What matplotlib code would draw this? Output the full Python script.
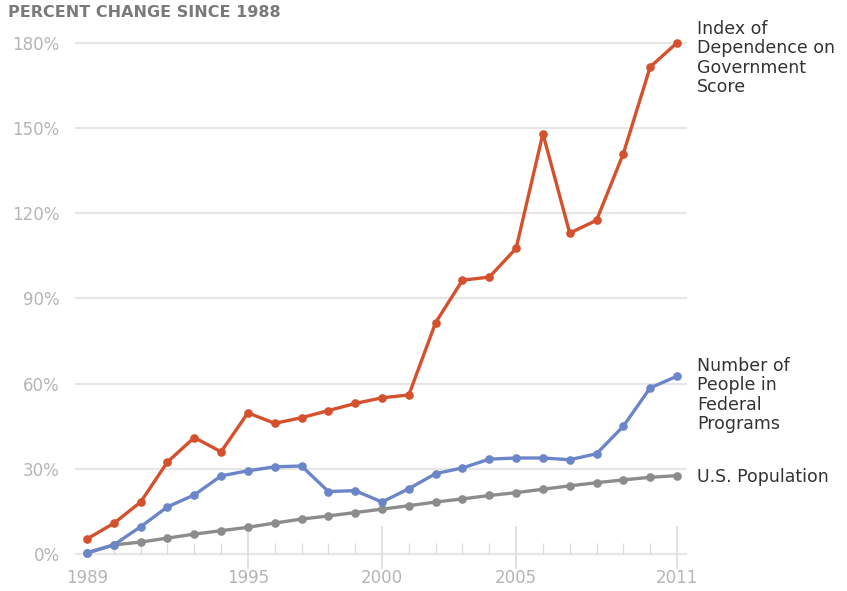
import matplotlib
matplotlib.use("Agg")
import matplotlib.pyplot as plt
import numpy as np

years = list(range(1989, 2012))
index_dependence = [5.3, 10.8, 18.3, 32.4, 41.0, 36.0, 49.7, 46.0, 48.0, 50.5, 53.0, 55.0, 56.0,
                    81.5, 96.4, 97.5, 107.6, 148.0, 113.0, 117.5, 141.0, 171.5, 180.0]
federal_programs = [0.3, 3.2, 9.6, 16.6, 20.8, 27.5, 29.3, 30.7, 31.0, 22.0, 22.3, 18.3, 23.0,
                    28.3, 30.3, 33.4, 33.8, 33.8, 33.2, 35.3, 45.0, 58.5, 62.6]
us_population = [0.5, 3.2, 4.2, 5.6, 7.0, 8.2, 9.4, 10.9, 12.3, 13.4, 14.6, 15.8, 17.0,
                 18.3, 19.4, 20.6, 21.6, 22.8, 24.0, 25.1, 26.1, 27.0, 27.6]
y_ticks = [0, 30, 60, 90, 120, 150, 180]
y_tick_labels = ["0%", "30%", "60%", "90%", "120%", "150%", "180%"]
x_major = [1989, 1995, 2000, 2005, 2011]
x_major_labels = ["1989", "1995", "2000", "2005", "2011"]
series_labels = ["Index of\nDependence on\nGovernment\nScore",
                 "Number of\nPeople in\nFederal\nPrograms",
                 "U.S. Population"]
title = "PERCENT CHANGE SINCE 1988"

W, H = 847, 591
fig = plt.figure(figsize=(W / 100, H / 100), dpi=100)
fig.patch.set_facecolor("white")

# axes placement (pixel based)
px_left, px_right = 75, 687
y0_px, per_pct = 554, 85.2 / 30
ylo, yhi = -8, 185
top_px = y0_px - yhi * per_pct
bot_px = y0_px - ylo * per_pct
ax = fig.add_axes([px_left / W, 1 - bot_px / H, (px_right - px_left) / W, (bot_px - top_px) / H])
ppy = (677 - 87) / 22
ax.set_xlim(1989 - (87 - px_left) / ppy, 2011 + (px_right - 677) / ppy)
ax.set_ylim(ylo, yhi)

for s in ax.spines.values():
    s.set_visible(False)
ax.spines["bottom"].set_position(("data", 0))

# gridlines
for yv in y_ticks:
    ax.axhline(yv, color="#e6e6e6", lw=1.6, zorder=0)

ax.set_yticks(y_ticks)
ax.set_yticklabels(y_tick_labels)
ax.tick_params(axis="y", length=0, pad=11, labelsize=12, labelcolor="#b5b5b5")

ax.set_xticks(x_major)
ax.set_xticklabels(x_major_labels)
ax.set_xticks([y for y in years if y not in x_major], minor=True)
ax.tick_params(axis="x", which="major", length=0, pad=11, labelsize=12, labelcolor="#b5b5b5")
ax.tick_params(axis="x", which="minor", direction="in", length=8, width=1.0, color="#dcdcdc")
for xv in x_major[1:]:
    ax.plot([xv, xv], [-5, 9.5], color="#dcdcdc", lw=1.2, zorder=0.5, clip_on=False)

lw, ms = 2.4, 5.2
ax.plot(years, us_population, color="#8c8c8c", lw=lw, marker="o", ms=ms, zorder=2, clip_on=False)
ax.plot(years, federal_programs, color="#6b86c8", lw=lw, marker="o", ms=ms, zorder=3, clip_on=False)
ax.plot(years, index_dependence, color="#d5502d", lw=lw, marker="o", ms=ms, zorder=4, clip_on=False)

fig.text(8 / W, 1 - 5 / H, title, fontsize=11.5, fontweight="bold", color="#7a7a7a",
         ha="left", va="top")

lab_kw = dict(fontsize=12.5, color="#333333", ha="left", linespacing=1.1)
fig.text(697 / W, 1 - 20 / H, series_labels[0], va="top", **lab_kw)
fig.text(697 / W, 1 - 357 / H, series_labels[1], va="top", **lab_kw)
fig.text(697 / W, 1 - 477 / H, series_labels[2], va="center", **lab_kw)

fig.savefig("out.png", dpi=100, facecolor="white")
